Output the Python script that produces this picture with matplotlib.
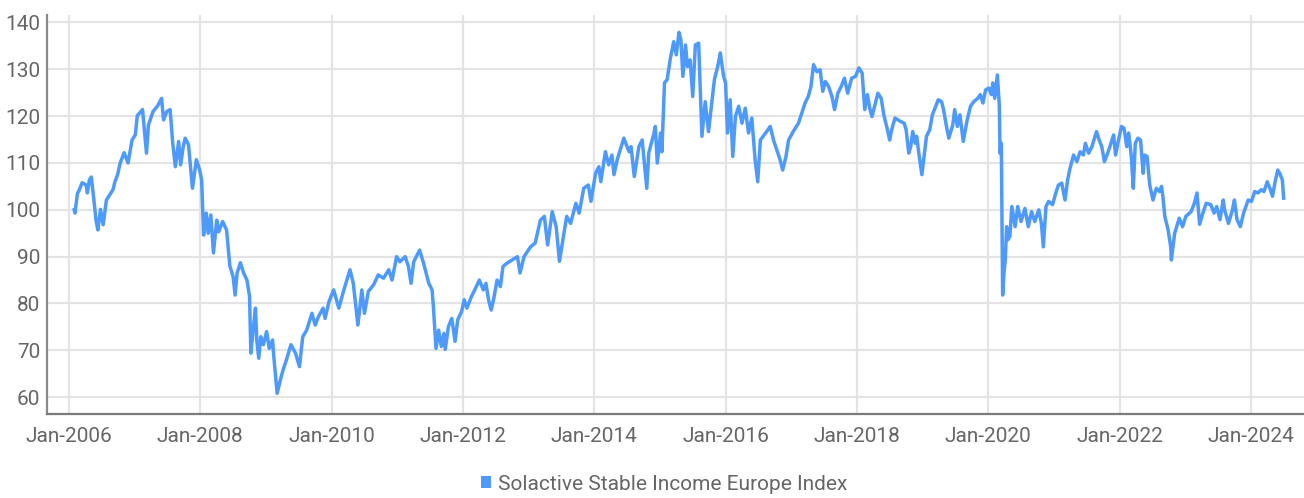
import matplotlib
matplotlib.use("Agg")
import matplotlib.pyplot as plt
from matplotlib.patches import Patch

# ---- data ----
# time in decimal years, index level
years = [
    2006.08, 2006.09, 2006.13, 2006.15, 2006.20, 2006.26, 2006.28, 2006.31, 2006.34, 2006.39,
    2006.41, 2006.44, 2006.48, 2006.52, 2006.57, 2006.62, 2006.67, 2006.70, 2006.74, 2006.78,
    2006.84, 2006.90, 2006.96, 2007.01, 2007.04, 2007.12, 2007.18, 2007.21, 2007.28, 2007.35,
    2007.41, 2007.44, 2007.49, 2007.54, 2007.58, 2007.62, 2007.67, 2007.70, 2007.74, 2007.77,
    2007.82, 2007.88, 2007.94, 2007.99, 2008.02, 2008.05, 2008.09, 2008.12, 2008.16, 2008.20,
    2008.25, 2008.28, 2008.34, 2008.40, 2008.45, 2008.50, 2008.53, 2008.56, 2008.61, 2008.66,
    2008.71, 2008.75, 2008.77, 2008.81, 2008.84, 2008.86, 2008.89, 2008.92, 2008.96, 2009.01,
    2009.05, 2009.10, 2009.12, 2009.17, 2009.22, 2009.26, 2009.31, 2009.38, 2009.45, 2009.51,
    2009.56, 2009.62, 2009.70, 2009.75, 2009.80, 2009.87, 2009.90, 2009.96, 2010.03, 2010.11,
    2010.18, 2010.28, 2010.33, 2010.40, 2010.46, 2010.50, 2010.56, 2010.64, 2010.71, 2010.79,
    2010.87, 2010.92, 2010.99, 2011.04, 2011.12, 2011.17, 2011.21, 2011.25, 2011.34, 2011.40,
    2011.48, 2011.53, 2011.55, 2011.59, 2011.63, 2011.67, 2011.71, 2011.73, 2011.78, 2011.83,
    2011.88, 2011.92, 2011.98, 2012.02, 2012.06, 2012.13, 2012.18, 2012.25, 2012.31, 2012.35,
    2012.39, 2012.43, 2012.47, 2012.52, 2012.57, 2012.61, 2012.67, 2012.75, 2012.83, 2012.87,
    2012.93, 2013.03, 2013.10, 2013.18, 2013.24, 2013.29, 2013.36, 2013.42, 2013.47, 2013.58,
    2013.64, 2013.72, 2013.77, 2013.84, 2013.91, 2013.95, 2014.02, 2014.07, 2014.10, 2014.17,
    2014.22, 2014.27, 2014.30, 2014.35, 2014.45, 2014.53, 2014.56, 2014.61, 2014.68, 2014.73,
    2014.80, 2014.83, 2014.91, 2014.93, 2014.96, 2015.01, 2015.03, 2015.07, 2015.11, 2015.16,
    2015.21, 2015.25, 2015.29, 2015.32, 2015.35, 2015.39, 2015.42, 2015.46, 2015.50, 2015.54,
    2015.59, 2015.64, 2015.69, 2015.74, 2015.79, 2015.83, 2015.88, 2015.92, 2015.97, 2016.00,
    2016.03, 2016.07, 2016.11, 2016.15, 2016.20, 2016.25, 2016.30, 2016.35, 2016.40, 2016.45,
    2016.49, 2016.53, 2016.61, 2016.68, 2016.73, 2016.78, 2016.83, 2016.87, 2016.92, 2016.96,
    2017.03, 2017.11, 2017.16, 2017.21, 2017.26, 2017.30, 2017.34, 2017.39, 2017.44, 2017.48,
    2017.52, 2017.57, 2017.62, 2017.66, 2017.71, 2017.76, 2017.81, 2017.86, 2017.92, 2017.98,
    2018.03, 2018.08, 2018.12, 2018.16, 2018.20, 2018.23, 2018.32, 2018.37, 2018.41, 2018.46,
    2018.50, 2018.53, 2018.58, 2018.66, 2018.72, 2018.75, 2018.79, 2018.82, 2018.85, 2018.89,
    2018.91, 2018.95, 2018.99, 2019.04, 2019.06, 2019.11, 2019.15, 2019.20, 2019.24, 2019.29,
    2019.32, 2019.37, 2019.40, 2019.46, 2019.49, 2019.53, 2019.57, 2019.62, 2019.68, 2019.73,
    2019.78, 2019.84, 2019.88, 2019.92, 2019.96, 2020.01, 2020.05, 2020.07, 2020.10, 2020.14,
    2020.17, 2020.18, 2020.20, 2020.22, 2020.24, 2020.26, 2020.28, 2020.30, 2020.33, 2020.36,
    2020.41, 2020.45, 2020.50, 2020.56, 2020.61, 2020.66, 2020.71, 2020.77, 2020.81, 2020.84,
    2020.88, 2020.92, 2020.98, 2021.03, 2021.07, 2021.12, 2021.17, 2021.21, 2021.24, 2021.30,
    2021.35, 2021.40, 2021.45, 2021.48, 2021.53, 2021.58, 2021.61, 2021.65, 2021.69, 2021.73,
    2021.77, 2021.82, 2021.87, 2021.91, 2021.94, 2021.98, 2022.03, 2022.07, 2022.11, 2022.14,
    2022.18, 2022.21, 2022.24, 2022.28, 2022.32, 2022.36, 2022.38, 2022.42, 2022.46, 2022.51,
    2022.56, 2022.61, 2022.64, 2022.66, 2022.69, 2022.74, 2022.78, 2022.79, 2022.84, 2022.91,
    2022.96, 2023.01, 2023.09, 2023.14, 2023.18, 2023.22, 2023.27, 2023.32, 2023.39, 2023.44,
    2023.48, 2023.53, 2023.58, 2023.60, 2023.66, 2023.72, 2023.75, 2023.79, 2023.84, 2023.89,
    2023.96, 2024.01, 2024.06, 2024.11, 2024.16, 2024.20, 2024.25, 2024.29, 2024.33, 2024.37,
    2024.41, 2024.44, 2024.48, 2024.50,
]
index_values = [
    100.0, 99.3, 103.6, 104.0, 105.8, 105.3, 103.6, 106.4, 107.0, 100.7,
    97.9, 95.7, 100.1, 96.8, 102.1, 103.2, 104.3, 106.0, 107.5, 110.0,
    112.2, 110.0, 114.9, 116.0, 120.1, 121.4, 112.1, 118.1, 121.0, 122.2,
    123.8, 119.2, 121.0, 121.4, 114.2, 109.2, 114.6, 109.6, 113.5, 115.3,
    113.9, 104.6, 110.7, 108.5, 106.4, 94.6, 99.3, 95.0, 98.9, 90.8,
    97.8, 95.3, 97.5, 95.7, 88.0, 85.7, 81.8, 86.5, 88.7, 86.5,
    85.0, 81.5, 69.4, 75.1, 79.0, 72.2, 68.3, 72.9, 71.2, 74.0,
    70.4, 72.2, 68.6, 60.8, 63.7, 65.8, 67.9, 71.2, 69.4, 66.5,
    72.9, 74.3, 77.9, 75.4, 77.2, 79.0, 76.8, 80.4, 82.9, 79.0,
    82.6, 87.2, 84.3, 75.4, 82.9, 77.9, 82.6, 84.0, 86.1, 85.4,
    87.2, 85.0, 90.0, 88.9, 90.0, 87.9, 84.3, 88.9, 91.4, 88.6,
    84.3, 82.9, 79.3, 70.4, 74.3, 70.8, 73.6, 70.2, 75.1, 76.8,
    71.9, 76.5, 78.3, 80.8, 79.0, 81.5, 82.9, 85.0, 82.9, 84.3,
    80.8, 78.6, 81.1, 85.0, 83.6, 87.9, 88.6, 89.3, 90.0, 86.5,
    90.0, 92.1, 92.9, 97.8, 98.6, 92.5, 99.6, 96.4, 89.0, 98.6,
    97.1, 101.4, 99.3, 104.6, 105.3, 101.8, 107.8, 109.2, 106.0, 112.4,
    109.6, 111.7, 107.5, 110.7, 115.3, 112.4, 113.5, 107.1, 113.5, 114.9,
    104.6, 112.1, 116.4, 117.8, 110.0, 116.4, 112.4, 127.1, 127.8, 132.4,
    135.9, 133.1, 137.9, 136.3, 128.5, 135.2, 130.6, 132.0, 124.2, 135.2,
    135.6, 115.7, 123.1, 116.7, 122.8, 127.8, 130.6, 133.5, 128.5, 127.1,
    116.4, 123.5, 111.4, 119.9, 122.1, 118.5, 121.7, 116.4, 119.6, 110.7,
    106.0, 114.9, 116.4, 117.8, 114.9, 112.8, 110.7, 108.5, 111.4, 114.9,
    116.7, 118.5, 120.6, 122.8, 124.2, 126.3, 131.0, 129.5, 129.9, 125.3,
    127.4, 126.3, 124.2, 121.4, 124.9, 126.3, 128.1, 124.9, 128.1, 128.5,
    130.3, 129.2, 121.4, 124.6, 121.4, 119.9, 124.9, 123.8, 120.3, 117.4,
    114.9, 117.1, 119.6, 118.9, 118.5, 117.1, 112.1, 113.5, 116.7, 114.2,
    115.7, 111.4, 107.5, 113.5, 115.7, 117.1, 120.3, 122.1, 123.5, 123.1,
    121.4, 117.4, 115.3, 118.1, 121.4, 117.8, 120.3, 114.6, 119.2, 122.1,
    123.1, 123.8, 124.6, 122.8, 125.6, 126.0, 124.6, 127.1, 123.8, 128.8,
    122.1, 112.1, 114.2, 81.8, 86.5, 89.3, 96.4, 93.6, 94.3, 100.7,
    96.4, 100.7, 97.5, 100.3, 96.4, 99.6, 97.5, 100.0, 97.1, 92.1,
    100.7, 101.8, 101.1, 103.6, 105.3, 105.7, 102.1, 106.4, 108.5, 111.7,
    110.3, 112.4, 111.7, 114.2, 112.1, 113.5, 114.9, 116.7, 114.9, 113.5,
    110.3, 112.1, 114.2, 116.0, 111.7, 114.6, 117.8, 117.4, 113.5, 116.4,
    111.4, 104.6, 114.2, 115.3, 114.9, 107.8, 111.7, 111.4, 105.3, 102.1,
    104.6, 103.9, 105.0, 102.9, 98.6, 95.7, 92.1, 89.3, 95.0, 98.2,
    96.4, 98.6, 99.6, 101.4, 103.6, 96.9, 99.3, 101.4, 101.1, 99.3,
    100.7, 97.9, 102.1, 100.0, 97.1, 100.0, 102.1, 97.9, 96.4, 99.3,
    102.1, 101.8, 103.9, 103.6, 104.3, 103.9, 106.0, 104.6, 102.9, 106.0,
    108.5, 107.8, 106.4, 102.5,
]
series_name = "Solactive Stable Income Europe Index"
x_tick_years = [2006, 2008, 2010, 2012, 2014, 2016, 2018, 2020, 2022, 2024]
x_tick_labels = ["Jan-2006", "Jan-2008", "Jan-2010", "Jan-2012", "Jan-2014",
                 "Jan-2016", "Jan-2018", "Jan-2020", "Jan-2022", "Jan-2024"]
y_ticks = [60, 70, 80, 90, 100, 110, 120, 130, 140]

# ---- style ----
LINE = "#4d9afc"
TEXT = "#666666"
GRID = "#e4e4e4"
plt.rcParams["font.family"] = ["Roboto", "DejaVu Sans"]

W, H = 1304, 498
fig = plt.figure(figsize=(W / 100, H / 100), dpi=100)
ax = fig.add_axes([47 / W, (H - 414) / H, (1304 - 47) / W, (414 - 15) / H])

ax.plot(years, index_values, color=LINE, lw=2.5, solid_joinstyle="round", zorder=3)

ax.set_xlim(2005.665, 2024.81)
ax.set_ylim(56.4, 141.6)
ax.set_xticks(x_tick_years)
ax.set_xticklabels(x_tick_labels)
ax.set_yticks(y_ticks)

ax.grid(True, color=GRID, lw=1.6, zorder=0)
ax.set_axisbelow(True)
for s in ["top", "right"]:
    ax.spines[s].set_visible(False)
ax.spines["left"].set_color("#8a8a8a")
ax.spines["left"].set_linewidth(1.6)
ax.spines["bottom"].set_color("#7a7a7a")
ax.spines["bottom"].set_linewidth(1.6)
ax.tick_params(axis="both", length=0, labelsize=15, labelcolor=TEXT)
ax.tick_params(axis="x", pad=9)
ax.tick_params(axis="y", pad=5)

handle = Patch(facecolor=LINE, edgecolor="none")
fig.legend([handle], [series_name], loc="center",
           bbox_to_anchor=(664 / W, 1 - 484 / H), frameon=False,
           fontsize=15, labelcolor=TEXT, handlelength=0.5, handleheight=0.5,
           handletextpad=0.3)

fig.savefig("out.png", dpi=100)
